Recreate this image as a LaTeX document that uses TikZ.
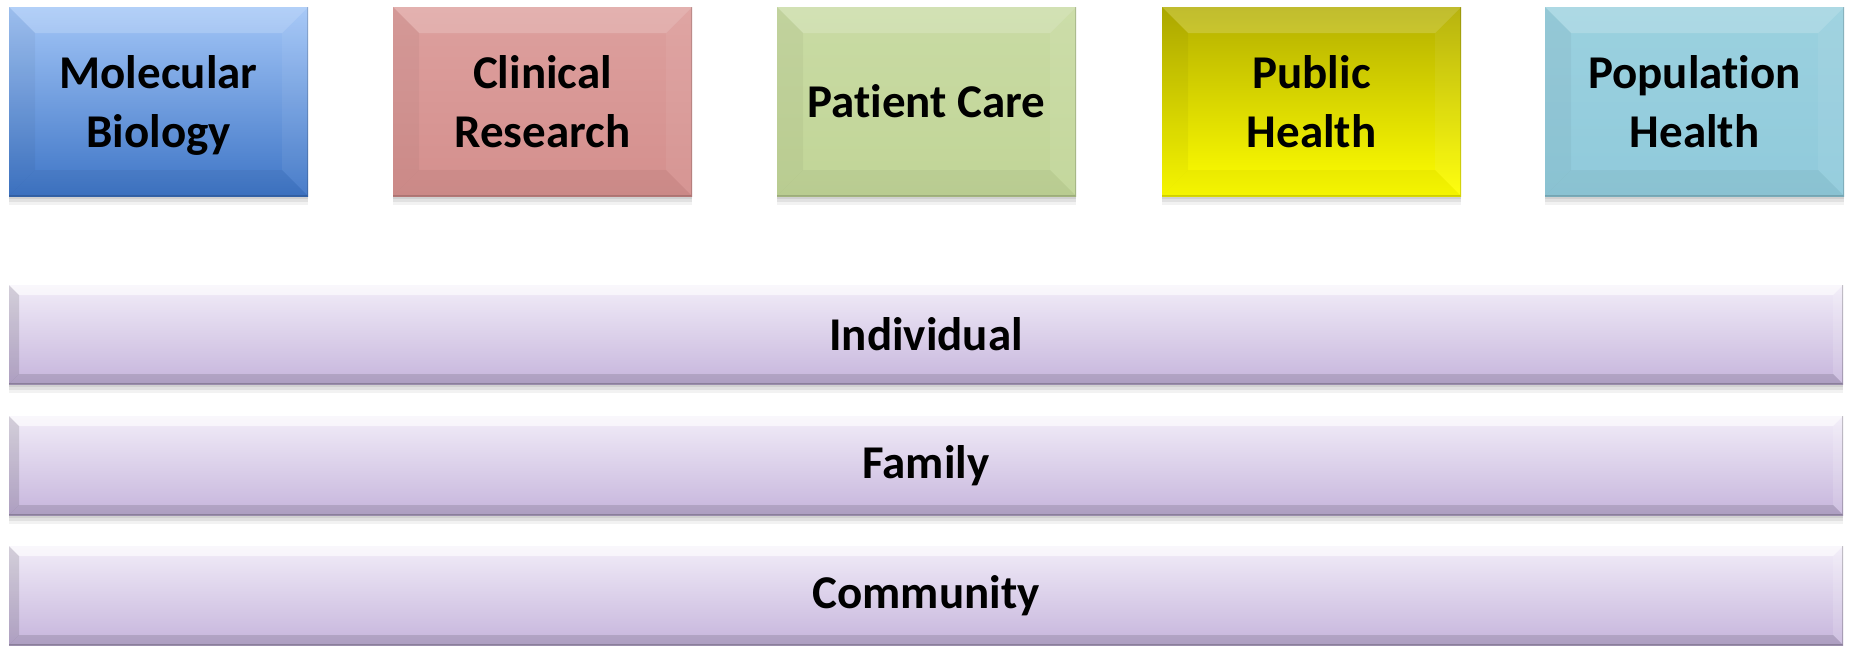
\documentclass[tikz,border=0pt]{standalone}
\usepackage{fontspec}
\setmainfont[Ligatures=CommonOff]{Carlito}
\definecolor{bluetop}{HTML}{A3C6F7}
\definecolor{bluebot}{HTML}{3E75C6}
\definecolor{redtop}{HTML}{DDA09E}
\definecolor{redbot}{HTML}{D48F8D}
\definecolor{greentop}{HTML}{C9DBA4}
\definecolor{greenbot}{HTML}{C1D597}
\definecolor{yeltop}{HTML}{B3AE00}
\definecolor{yelbot}{HTML}{FFFF00}
\definecolor{tealtop}{HTML}{9BD1DF}
\definecolor{tealbot}{HTML}{90CADB}
\definecolor{lavtop}{HTML}{F1ECF8}
\definecolor{lavbot}{HTML}{C6B5DC}
\newcommand\bevelfaces[6]{%
  \fill[white,opacity=#2] (path picture bounding box.north west) -- (path picture bounding box.north east)
     -- ([xshift=-#1,yshift=-#1]path picture bounding box.north east) -- ([xshift=#1,yshift=-#1]path picture bounding box.north west) -- cycle;
  \fill[black,opacity=#3] (path picture bounding box.north west) -- ([xshift=#1,yshift=-#1]path picture bounding box.north west)
     -- ([xshift=#1,yshift=#1]path picture bounding box.south west) -- (path picture bounding box.south west) -- cycle;
  \fill[white,opacity=#4] (path picture bounding box.north east) -- ([xshift=-#1,yshift=-#1]path picture bounding box.north east)
     -- ([xshift=-#1,yshift=#1]path picture bounding box.south east) -- (path picture bounding box.south east) -- cycle;
  \fill[black,opacity=#5] (path picture bounding box.south west) -- ([xshift=#1,yshift=#1]path picture bounding box.south west)
     -- ([xshift=-#1,yshift=#1]path picture bounding box.south east) -- (path picture bounding box.south east) -- cycle;
  \draw[black,opacity=#6,line width=3pt] (path picture bounding box.north east) -- (path picture bounding box.south east) -- (path picture bounding box.south west);
}
\tikzset{
  softshadow/.style={
    preaction={fill=black,opacity=0.07,transform canvas={yshift=-3pt}},
    preaction={fill=black,opacity=0.07,transform canvas={yshift=-6pt}},
    preaction={fill=black,opacity=0.05,transform canvas={yshift=-9pt}}},
  topbox/.style 2 args={softshadow, draw=none, top color=#1, bottom color=#2,
    minimum width=299pt, minimum height=189pt, inner sep=0pt, align=center,
    font=\fontsize{47}{59}\selectfont\bfseries,
    path picture={\bevelfaces{26pt}{0.18}{0.04}{0.06}{0.04}{0.15}}},
  twoline/.style={text height=98pt, text depth=7pt},
  barbox/.style={softshadow, draw=none, top color=lavtop, bottom color=lavbot,
    minimum width=1834pt, minimum height=99pt, inner sep=0pt,
    font=\fontsize{47}{58}\selectfont\bfseries,
    path picture={\bevelfaces{10pt}{0.6}{0.12}{0.15}{0.12}{0.2}}},
}
\begin{document}
\begin{tikzpicture}[x=1pt,y=-1pt]
\useasboundingbox (0,0) rectangle (1849,645);
\node[topbox={bluetop}{bluebot},twoline] (molbio) at (158.5,101.5) {Molecular\\Biology};
\node[topbox={redtop}{redbot},twoline] (clinres) at (542.5,101.5) {Clinical\\Research};
\node[topbox={greentop}{greenbot}] (patcare) at (926.5,101.5) {Pat\kern0pt ient Care};
\node[topbox={yeltop}{yelbot},twoline] (pubhealth) at (1311.5,101.5) {Public\\Health};
\node[topbox={tealtop}{tealbot},twoline] (pophealth) at (1694.5,101.5) {Populat\kern0pt ion\\Health};
\node[barbox] (individual) at (926,334.5) {Individual};
\node[barbox] (family) at (926,465.5) {Family};
\node[barbox] (community) at (926,595.5) {Community};
\end{tikzpicture}
\end{document}
